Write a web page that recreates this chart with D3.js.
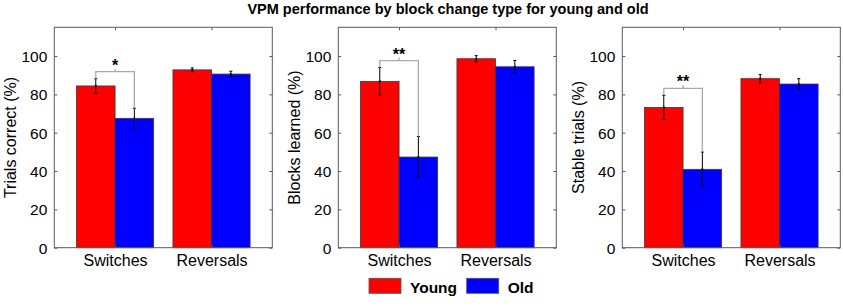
<!DOCTYPE html>
<html>
<head>
<meta charset="utf-8">
<script src="https://cdn.jsdelivr.net/npm/d3@7"></script>
<style>
  body { margin: 0; background: #fff; }
  text { font-family: "Liberation Sans", Arial, Helvetica, sans-serif; }
</style>
</head>
<body>
<svg id="chart"></svg>
<script>
// chart values
const title = 'VPM performance by block change type for young and old'
const categories = ['Switches', 'Reversals']
const groups = ['Young', 'Old']
const groupColors = ['#ff0000', '#0000ff']
const yLabels = ['Trials correct (%)', 'Blocks learned (%)', 'Stable trials (%)']
const youngMeans = [[84.4, 92.8], [86.8, 98.6], [73.2, 88.2]]
const youngErr = [[3.8, 1.0], [7.2, 1.6], [6.3, 2.1]]
const oldMeans = [[67.5, 90.6], [47.3, 94.4], [40.9, 85.4]]
const oldErr = [[5.3, 1.5], [10.7, 3.3], [9.0, 2.8]]
const sigStars = ['*', '**', '**']
const yTicks = [0, 20, 40, 60, 80, 100]

const fullWidth = 843
const fullHeight = 306
const panelLefts = [54.3, 338.3, 622.3]
const panelTop = 27.3
const panelW = 218
const panelH = 220.4
const axisColor = '#5a5a5a'

const svg = d3.select('#chart')
  .attr('width', fullWidth)
  .attr('height', fullHeight)

svg.append('text')
  .attr('x', 448)
  .attr('y', 14)
  .attr('text-anchor', 'middle')
  .attr('font-size', '14.5px')
  .attr('font-weight', 'bold')
  .text(title)

const xScale = d3.scaleLinear().domain([0.37, 2.63]).range([0, panelW])
const yScale = d3.scaleLinear().domain([0, 115]).range([panelH, 0])
const barW = xScale(1.4) - xScale(1)

yLabels.forEach((label, p) => {
  const g = svg.append('g')
    .attr('transform', `translate(${panelLefts[p]}, ${panelTop})`)

  const rows = categories.map((c, i) => ({
    cat: i + 1,
    vals: [
      { m: youngMeans[p][i], e: youngErr[p][i], k: 0 },
      { m: oldMeans[p][i], e: oldErr[p][i], k: 1 }
    ]
  }))

  // bars
  rows.forEach(r => {
    g.selectAll(null)
      .data(r.vals)
      .enter().append('rect')
        .attr('x', d => xScale(r.cat) + (d.k - 1) * barW)
        .attr('y', d => yScale(d.m))
        .attr('width', barW)
        .attr('height', d => panelH - yScale(d.m))
        .attr('fill', d => groupColors[d.k])
        .attr('stroke', '#3a3a3a')
        .attr('stroke-width', 0.8)
  })

  // error bars
  rows.forEach(r => {
    const eb = g.selectAll(null)
      .data(r.vals)
      .enter().append('g')
        .attr('transform', d => `translate(${xScale(r.cat) + (d.k - 0.5) * barW}, 0)`)
    eb.append('line')
      .attr('y1', d => yScale(d.m - d.e))
      .attr('y2', d => yScale(d.m + d.e))
      .attr('stroke', '#000')
      .attr('stroke-width', 1)
    eb.selectAll('.cap')
      .data(d => [d.m - d.e, d.m + d.e])
      .enter().append('line')
        .attr('x1', -1.5).attr('x2', 1.5)
        .attr('y1', v => yScale(v)).attr('y2', v => yScale(v))
        .attr('stroke', '#000')
    eb.append('circle')
      .attr('cy', d => yScale(d.m))
      .attr('r', 1.1)
      .attr('fill', '#000')
  })

  // significance bracket over switches
  const sw = rows[0]
  const xa = xScale(sw.cat) - barW / 2
  const xb = xScale(sw.cat) + barW / 2
  const ya = yScale(sw.vals[0].m + sw.vals[0].e)
  const yb = yScale(sw.vals[1].m + sw.vals[1].e)
  const yTop = Math.min(ya, yb) - 7
  g.append('path')
    .attr('d', `M${xa},${ya}V${yTop}H${xb}V${yb}M${(xa + xb) / 2},${yTop}v-3`)
    .attr('fill', 'none')
    .attr('stroke', '#aaaaaa')
    .attr('stroke-width', 1.3)
  g.append('text')
    .attr('x', (xa + xb) / 2)
    .attr('y', yTop - 1)
    .attr('text-anchor', 'middle')
    .attr('font-size', '16px')
    .attr('font-weight', 'bold')
    .text(sigStars[p])

  // axes with inward ticks, matlab style
  const leftAxis = g.append('g')
    .call(d3.axisLeft(yScale).tickValues(yTicks).tickSize(-3).tickPadding(7))
  const rightAxis = g.append('g')
    .attr('transform', `translate(${panelW}, 0)`)
    .call(d3.axisRight(yScale).tickValues(yTicks).tickSize(-3).tickFormat(''))
  const bottomAxis = g.append('g')
    .attr('transform', `translate(0, ${panelH})`)
    .call(d3.axisBottom(xScale).tickValues([1, 2]).tickSize(-3).tickPadding(7)
      .tickFormat(d => categories[d - 1]))
  const topAxis = g.append('g')
    .call(d3.axisTop(xScale).tickValues([1, 2]).tickSize(-3).tickFormat(''))

  ;[leftAxis, rightAxis, bottomAxis, topAxis].forEach(a => {
    a.select('.domain').remove()
    a.selectAll('line').attr('stroke', axisColor)
    a.selectAll('text')
      .attr('fill', '#000')
      .attr('font-family', '"Liberation Sans", Arial, sans-serif')
  })
  leftAxis.selectAll('text').attr('font-size', '15.5px').attr('dy', '0.36em')
  bottomAxis.selectAll('text').attr('font-size', '16px')

  g.append('rect')
    .attr('width', panelW)
    .attr('height', panelH)
    .attr('fill', 'none')
    .attr('stroke', axisColor)
    .attr('stroke-width', 1)

  g.append('text')
    .attr('transform', `translate(-38, ${panelH / 2}) rotate(-90)`)
    .attr('text-anchor', 'middle')
    .attr('font-size', '16px')
    .text(label)
})

// legend
const legend = svg.append('g')
const legendX = [369, 466.7]
groups.forEach((name, i) => {
  legend.append('rect')
    .attr('x', legendX[i])
    .attr('y', 278.3)
    .attr('width', 32)
    .attr('height', 15)
    .attr('fill', groupColors[i])
    .attr('stroke', '#555')
    .attr('stroke-width', 0.8)
  legend.append('text')
    .attr('x', legendX[i] + 41)
    .attr('y', 293)
    .attr('font-size', '15.5px')
    .attr('font-weight', 'bold')
    .text(name)
})
</script>
</body>
</html>
